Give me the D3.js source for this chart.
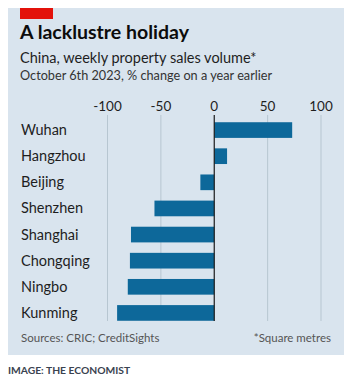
<!DOCTYPE html>
<html>
<head>
<meta charset="utf-8">
<script src="https://cdn.jsdelivr.net/npm/d3@7"></script>
<style>
  body { margin: 0; background: #fff; }
  svg { display: block; }
  text { font-family: Lato, "Open Sans", sans-serif; }
</style>
</head>
<body>
<svg id="canvas" width="353" height="385"></svg>
<script>
let cities = ['Wuhan', 'Hangzhou', 'Beijing', 'Shenzhen', 'Shanghai', 'Chongqing', 'Ningbo', 'Kunming']
let changes = [73, 12, -13, -56, -78, -79, -81, -91]
let tickValues = [-100, -50, 0, 50, 100]

let svg = d3.select('#canvas')

// panel
svg.append('rect').attr('x', 8).attr('y', 8).attr('width', 336).attr('height', 347).attr('fill', '#d9e4ee')
svg.append('rect').attr('x', 20).attr('y', 8).attr('width', 33).attr('height', 11).attr('fill', '#e3120b')

svg.append('text').attr('x', 20).attr('y', 39)
    .attr('font-size', 19.5).attr('font-weight', 'bold').attr('fill', '#0c0c0c')
    .text('A lacklustre holiday')
svg.append('text').attr('x', 20).attr('y', 63)
    .attr('font-size', 14.5).attr('fill', '#1e1e1e')
    .text('China, weekly property sales volume*')
svg.append('text').attr('x', 20).attr('y', 80)
    .attr('font-size', 12.7).attr('fill', '#333')
    .text('October 6th 2023, % change on a year earlier')

let x = d3.scaleLinear().domain([-100, 100]).range([107.5, 321])
let y = d3.scaleBand().domain(cities).range([117, 326]).paddingInner(0.4).paddingOuter(0.2)

// gridlines
svg.append('g').selectAll('line')
    .data(tickValues.filter(d => d !== 0))
    .enter()
    .append('line')
    .attr('x1', d => x(d)).attr('x2', d => x(d))
    .attr('y1', 115).attr('y2', 321)
    .attr('stroke', '#b7c6d1').attr('stroke-width', 1)

// tick labels
svg.append('g').selectAll('text')
    .data(tickValues)
    .enter()
    .append('text')
    .attr('x', d => x(d)).attr('y', 111)
    .attr('text-anchor', 'middle')
    .attr('font-size', 13.5).attr('fill', '#1e1e1e')
    .text(d => d)

// bars
svg.append('g').selectAll('rect')
    .data(changes)
    .enter()
    .append('rect')
    .attr('x', d => x(Math.min(0, d)))
    .attr('width', d => Math.abs(x(d) - x(0)))
    .attr('y', (d, i) => y(cities[i]))
    .attr('height', y.bandwidth())
    .attr('fill', '#0d689a')

// zero line
svg.append('line')
    .attr('x1', x(0)).attr('x2', x(0)).attr('y1', 115).attr('y2', 321)
    .attr('stroke', '#1a1a1a').attr('stroke-width', 1.2)

// city labels
svg.append('g').selectAll('text')
    .data(cities)
    .enter()
    .append('text')
    .attr('x', 21)
    .attr('y', d => y(d) + y.bandwidth() / 2 + 5)
    .attr('font-size', 14.5).attr('fill', '#1e1e1e')
    .text(d => d)

svg.append('text').attr('x', 21).attr('y', 342)
    .attr('font-size', 11.5).attr('fill', '#555')
    .text('Sources: CRIC; CreditSights')
svg.append('text').attr('x', 331).attr('y', 342).attr('text-anchor', 'end')
    .attr('font-size', 11.5).attr('fill', '#555')
    .text('*Square metres')

svg.append('text').attr('x', 8).attr('y', 374)
    .attr('font-size', 10.3).attr('font-weight', 'bold').attr('fill', '#3a4350')
    .text('IMAGE: THE ECONOMIST')
</script>
</body>
</html>
